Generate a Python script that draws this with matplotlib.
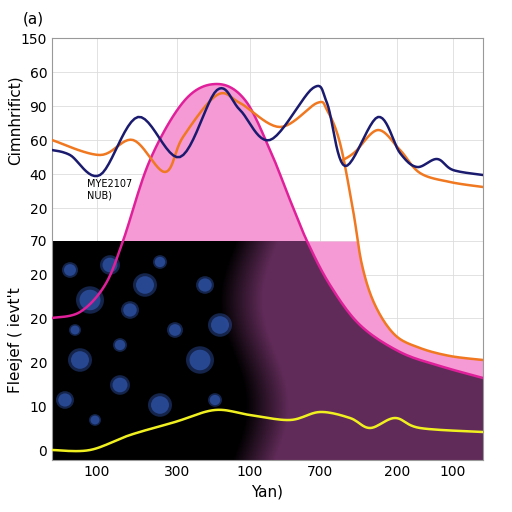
import numpy as np
import matplotlib.pyplot as plt
from matplotlib.patches import Circle

# pixel-read points converted to 0..100 data space
def cx(px): return (np.array(px) - 52) / 431 * 100
def cy(py): return (460 - np.array(py)) / 422 * 100

navy_px = [52, 70, 100, 138, 180, 217, 240, 270, 313, 327, 345, 378, 400, 417, 437, 453, 483]
navy_py = [150, 155, 175, 117, 157, 90, 110, 140, 88, 103, 166, 117, 153, 167, 159, 170, 175]
orange_px = [52, 100, 133, 165, 183, 217, 240, 280, 317, 327, 340, 353, 362, 375, 395, 420, 450, 483]
orange_py = [140, 155, 140, 172, 137, 95, 103, 127, 103, 110, 143, 210, 265, 305, 335, 348, 356, 360]
orange2_px = [343, 355, 378, 400, 420, 450, 483]
orange2_py = [160, 152, 130, 150, 173, 182, 187]
mag_px = [52, 80, 105, 123, 150, 185, 217, 245, 270, 290, 307, 330, 360, 400, 440, 483]
mag_py = [318, 312, 285, 241, 160, 100, 84, 100, 150, 200, 241, 285, 325, 352, 366, 378]
yel_px = [52, 90, 130, 175, 215, 250, 290, 320, 350, 370, 395, 420, 483]
yel_py = [450, 450, 435, 422, 410, 415, 420, 412, 418, 428, 418, 428, 432]
blobs = [(70, 270, 8), (90, 300, 14), (110, 265, 10), (130, 310, 9), (75, 330, 6), (145, 285, 12),
         (160, 262, 7), (120, 345, 7), (80, 360, 12), (120, 385, 10), (65, 400, 9), (175, 330, 8),
         (200, 360, 14), (220, 325, 12), (205, 285, 9), (160, 405, 12), (215, 400, 7), (95, 420, 6)]

ytick_px = [38, 72, 106, 140, 174, 208, 241, 275, 318, 362, 406, 450]
ytick_lbl = ["150", "60", "90", "60", "40", "20", "70", "20", "20", "20", "10", "0"]
xtick_px = [97, 177, 250, 320, 397, 453]
xtick_lbl = ["100", "300", "100", "700", "200", "100"]


def smooth(x, y, n=12):
    # Catmull-Rom rendering through the read points
    x = np.asarray(x, float); y = np.asarray(y, float)
    P = np.column_stack([x, y])
    P = np.vstack([P[0], P, P[-1]])
    out = []
    t = np.linspace(0, 1, n, endpoint=False)[:, None]
    for i in range(1, len(P) - 2):
        p0, p1, p2, p3 = P[i - 1], P[i], P[i + 1], P[i + 2]
        out.append(0.5 * (2 * p1 + (-p0 + p2) * t + (2 * p0 - 5 * p1 + 4 * p2 - p3) * t ** 2
                          + (-p0 + 3 * p1 - 3 * p2 + p3) * t ** 3))
    out.append(P[-2][None])
    out = np.vstack(out)
    return out[:, 0], out[:, 1]


fig = plt.figure(figsize=(5.12, 5.12), dpi=100)
ax = fig.add_axes([52/512, 52/512, 431/512, 422/512])
ax.set_xlim(0, 100); ax.set_ylim(0, 100)

pink = '#f59ad4'
mx, my = smooth(cx(mag_px), cy(mag_py))
ox, oy = smooth(cx(orange_px), cy(orange_py))
ax.fill_between(mx, my, 0, color=pink, zorder=1, lw=0)

ymid = cy(241)
xs = np.linspace(0, 100, 400)
mi = np.interp(xs, mx, my)
oi = np.interp(xs, ox, oy)
right = xs > cx(300)
ax.fill_between(xs, mi, np.minimum(oi, ymid), where=right & (oi > mi), color=pink, zorder=1, lw=0)

# dark lower region with black->purple gradient
top = np.where(xs < cx(217), ymid, np.minimum(mi, ymid))
poly = ax.fill_between(xs, top, 0, color='none', zorder=2)
gx = np.linspace(0, 100, 300)
gy = np.linspace(0, 100, 100)
GX, GY = np.meshgrid(gx, gy)
edge = 42 + 3 * np.sin(GY / 8)
grad = np.clip((GX - edge) / 10, 0, 1)
img = np.zeros((100, 300, 3))
img[..., 0] = grad * 0.38; img[..., 1] = grad * 0.17; img[..., 2] = grad * 0.35
im = ax.imshow(img, extent=[0, 100, 0, 100], origin='lower', aspect='auto', zorder=2)
im.set_clip_path(poly.get_paths()[0], transform=ax.transData)
for px, py, r in blobs:
    for k, a in [(1.0, 0.35), (0.75, 0.5)]:
        c = Circle((cx(px), cy(py)), k * r / 431 * 100, color='#3a6ad8', alpha=a, zorder=3, lw=0)
        ax.add_patch(c)
        c.set_clip_path(poly.get_paths()[0], transform=ax.transData)

ax.plot(mx, my, color='#e0209a', lw=1.8, zorder=4)
ax.plot(ox, oy, color='#f07820', lw=1.8, zorder=5)
ax.plot(*smooth(cx(orange2_px), cy(orange2_py)), color='#f07820', lw=1.8, zorder=5)
ax.plot(*smooth(cx(navy_px), cy(navy_py)), color='#1a1a6e', lw=1.8, zorder=6)
ax.plot(*smooth(cx(yel_px), cy(yel_py)), color='#f0f020', lw=1.8, zorder=6)

ax.text(cx(87), cy(190), "MYE2107\nNUB)", fontsize=7, va='center')
ax.set_yticks(cy(ytick_px)); ax.set_yticklabels(ytick_lbl)
ax.set_xticks(cx(xtick_px)); ax.set_xticklabels(xtick_lbl)
ax.tick_params(labelsize=10, length=0)
ax.grid(True, color='#dddddd', lw=0.6, zorder=0)
ax.set_axisbelow(True)
for s in ax.spines.values():
    s.set_color('#999999')
ax.set_xlabel("Yan)", fontsize=11)
fig.text(0.015, cy(120) / 100 * 422 / 512 + 52 / 512, "Cimnhrifict)", rotation=90, va='center', fontsize=11)
fig.text(0.015, cy(340) / 100 * 422 / 512 + 52 / 512, "Fleejef ( ievt't", rotation=90, va='center', fontsize=11)
fig.text(0.045, 0.955, "(a)", fontsize=11)
fig.savefig("out.png", dpi=100)
